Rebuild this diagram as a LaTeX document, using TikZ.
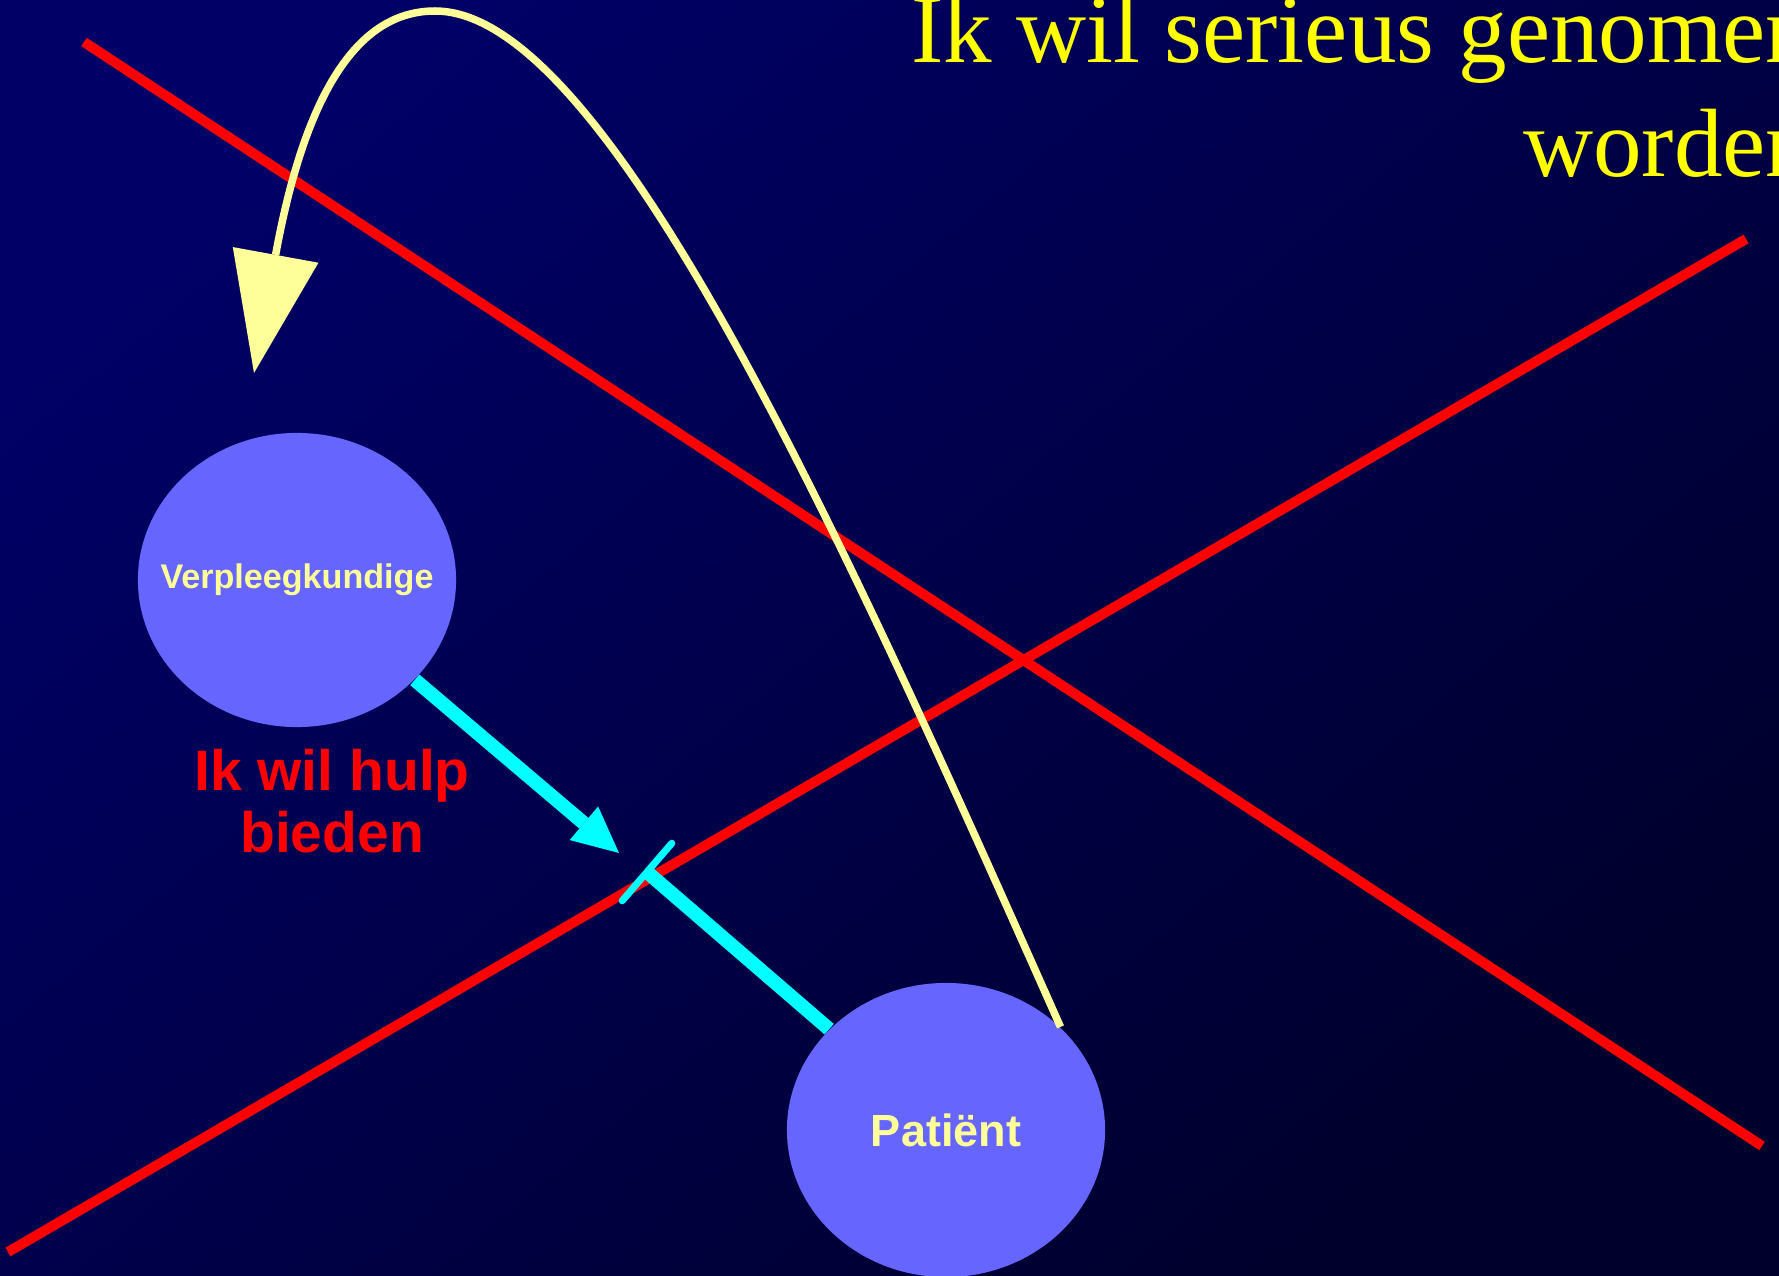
\documentclass[tikz,border=0pt]{standalone}
\usepackage{fontspec}
\setmainfont{Liberation Serif}
\setsansfont{Liberation Sans}
\usetikzlibrary{positioning, calc, shapes.geometric, arrows.meta}
\definecolor{bgtop}{HTML}{000066}
\definecolor{bgbot}{HTML}{00002C}
\definecolor{cross}{HTML}{FF0000}
\definecolor{reach}{HTML}{00FFFF}
\definecolor{party}{HTML}{6666FF}
\definecolor{pale}{HTML}{FFFF99}
\definecolor{slogan}{HTML}{FFFF00}

\begin{document}
\begin{tikzpicture}[x=0.01cm, y=-0.01cm,
    party/.style={ellipse, fill=party, inner sep=0pt, minimum width=3.18cm, minimum height=2.94cm},
    partytext/.style={text=pale, inner sep=0pt, font=\sffamily\bfseries\fontsize{#1}{#1}\selectfont},
    crossline/.style={draw=cross, line width=0.1cm},
    reachline/.style={draw=reach, line width=0.14cm}]
  % Background.
  \shade[top color=bgtop, bottom color=bgbot, shading angle=40] (0,0) rectangle (1779,1276);
  \clip (0,0) rectangle (1779,1276);

  % The two persons.
  \node[party, label={[partytext=9.7]center:Verpleegkundige}] (verp) at (297,580) {};
  \node[party, label={[partytext=12.8]center:Patiënt}] (pat) at (946,1130) {};

  % Texts.
  \node[text=cross, align=center, inner sep=0pt, font=\sffamily\bfseries\fontsize{16.2}{17.6}\selectfont,
        below=0.21cm of verp, xshift=0.35cm] (offer) {Ik wil hulp\\bieden};
  \node[text=slogan, align=right, inner sep=0pt, anchor=base east, font=\fontsize{27.6}{32.4}\selectfont]
        (wish) at (1815,176) {Ik wil serieus genomen\\worden};

  % Crossing-out lines.
  \coordinate (c1a) at (84,42);
  \coordinate (c1b) at (1762,1146);
  \coordinate (c2a) at (8,1252);
  \coordinate (c2b) at (1746,239);
  \draw[crossline] (c1a) -- (c1b);
  \draw[crossline] (c2a) -- (c2b);

  % Help offered, and blocked.
  \coordinate (aim) at (619,853);
  \coordinate (tee) at (647,872);
  \draw[reachline, -{Triangle[length=0.46cm, width=0.44cm, line width=0pt]}] (verp) -- (aim);
  \draw[reachline] (pat) -- (tee);
  \draw[draw=reach, line width=0.07cm, line cap=round]
    ($(tee)!0.38cm!90:(pat)$) -- ($(tee)!0.38cm!-90:(pat)$);

  % Wish sent back to the nurse.
  \coordinate (back) at (254,373);
  \draw[pale, line width=0.075cm, -{Triangle[length=1.2cm, width=0.87cm, line width=0pt]}]
    (pat.42) .. controls (837,524) and (605,11) .. (435,11)
             .. controls (365,11) and (308,78) .. (back);
\end{tikzpicture}
\end{document}
